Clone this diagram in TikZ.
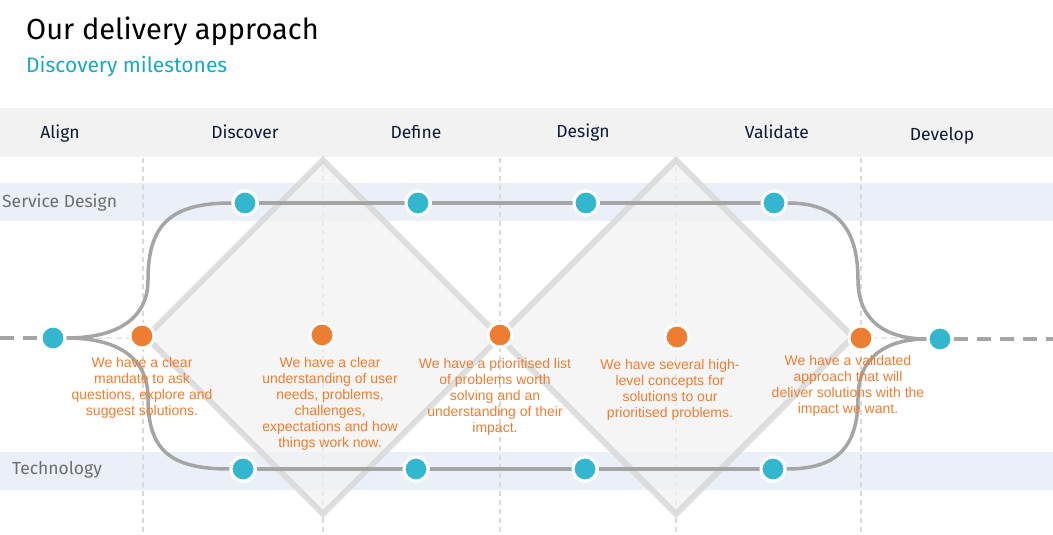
\documentclass[tikz,border=0pt]{standalone}
\usepackage{fontspec}
\setmainfont{Fira Sans}
\newfontfamily\arialf{Liberation Sans}
\definecolor{cyanD}{HTML}{33B7CF}
\definecolor{subC}{HTML}{1AA7C0}
\definecolor{orangeD}{HTML}{ED7D31}
\definecolor{lineG}{HTML}{A5A5A5}
\definecolor{bandB}{HTML}{EBF0F8}
\definecolor{headG}{HTML}{F2F2F2}
\definecolor{dashG}{HTML}{D9D9D9}
\definecolor{navy}{HTML}{0E1A33}
\definecolor{rowG}{HTML}{6D6D6D}
\tikzset{
  cdot/.style={circle,fill=cyanD,draw=white,line width=3pt,minimum size=24pt,inner sep=0pt},
  odot/.style={circle,fill=orangeD,draw=white,line width=3pt,minimum size=24pt,inner sep=0pt},
  track/.style={draw=lineG,line width=3.5pt},
  vdash/.style={draw=dashG,line width=1.3pt,dash pattern=on 5pt off 4pt},
  diam/.style={fill=headG,fill opacity=0.75,draw=dashG,draw opacity=0.85,line width=6pt,line join=miter},
  phase/.style={font=\fontsize{17.5}{20}\selectfont,text=navy,inner sep=0pt},
  rowlab/.style={font=\fontsize{17.5}{20}\selectfont,text=rowG,inner sep=0pt,anchor=west},
  otext/.style={font=\arialf\fontsize{14}{16}\selectfont,text=orangeD,align=center,anchor=north,inner sep=0pt}
}
\begin{document}
\begin{tikzpicture}[x=1pt,y=-1pt]
\useasboundingbox (0,0) rectangle (1053,535);
% title
\node[anchor=base west,inner sep=0pt,font=\fontsize{29}{34}\selectfont,text=black] (title) at (26,40) {Our delivery approach};
\node[anchor=base west,inner sep=0pt,font=\fontsize{21}{25}\selectfont,text=subC] (sub) at (26,73) {Discovery milestones};
% header band
\fill[headG] (0,108) rectangle (1053,157);
\node[phase] (h1) at (60,134) {Align};
\node[phase] (h2) at (245,132) {Discover};
\node[phase] (h3) at (416,132) {Define};
\node[phase] (h4) at (583,133) {Design};
\node[phase] (h5) at (777,132) {Validate};
\node[phase] (h6) at (942,136) {Develop};
% bands
\fill[bandB] (0,183) rectangle (1053,221);
\fill[bandB] (0,452) rectangle (1053,490);
\node[rowlab] (r1) at (2,203) {Service Design};
\node[rowlab] (r2) at (12,470) {Technology};
% vertical dashed lines
\foreach \x in {143,323,500,676,861} \draw[vdash] (\x,158) -- (\x,535);
% diamonds
\path[diam] (323,160) -- (500,337) -- (323,514) -- (146,337) -- cycle;
\path[diam] (676,160) -- (853,337) -- (676,514) -- (499,337) -- cycle;
% faint horizontal dashes
\draw[draw=dashG!60,line width=1.2pt,dash pattern=on 6pt off 4pt] (66,338) -- (142,338);
\draw[draw=dashG!60,line width=1.2pt,dash pattern=on 6pt off 4pt] (861,338) -- (930,338);
% dots
\node[cdot] (L) at (53,338) {};
\node[cdot] (R) at (940,339) {};
\node[cdot] (s1) at (245,203) {};
\node[cdot] (s2) at (418,203) {};
\node[cdot] (s3) at (586,203) {};
\node[cdot] (s4) at (774,203) {};
\node[cdot] (t1) at (243,469) {};
\node[cdot] (t2) at (416,469) {};
\node[cdot] (t3) at (585,469) {};
\node[cdot] (t4) at (773,469) {};
% tracks
\draw[track,dash pattern=on 14pt off 9pt] (0,338) -- (L.west);
\draw[track,dash pattern=on 14pt off 9pt] (R.east) -- (1053,339);
\draw[track] (L.east) .. controls (118,338) and (148,318) .. (148,280) .. controls (148,225) and (170,203) .. (s1.west);
\draw[track] (L.east) .. controls (118,338) and (148,358) .. (148,398) .. controls (148,450) and (170,469) .. (t1.west);
\draw[track] (s4.east) .. controls (834,203) and (858,225) .. (858,280) .. controls (858,320) and (885,339) .. (R.west);
\draw[track] (t4.east) .. controls (834,469) and (858,450) .. (858,398) .. controls (858,358) and (885,339) .. (R.west);
\draw[track] (s1) -- (s2) -- (s3) -- (s4);
\draw[track] (t1) -- (t2) -- (t3) -- (t4);
% redraw dots on top of tracks
\foreach \p in {(53,338),(940,339),(245,203),(418,203),(586,203),(774,203),(243,469),(416,469),(585,469),(773,469)}
  \node[cdot] at \p {};
% orange milestones
\node[odot] (o1) at (142,336) {};
\node[odot] (o2) at (322,335) {};
\node[odot] (o3) at (500,335) {};
\node[odot] (o4) at (677,337) {};
\node[odot] (o5) at (861,338) {};
\node[otext] (m1) at (142,357) {We have a clear\\mandate to ask\\questions, explore and\\suggest solutions.};
\node[otext] (m2) at (330,357) {We have a clear\\understanding of user\\needs, problems,\\challenges,\\expectations and how\\things work now.};
\node[otext] (m3) at (495,358) {We have a prioritised list\\of problems worth\\solving and an\\understanding of their\\impact.};
\node[otext] (m4) at (670,359) {We have several high-\\level concepts for\\solutions to our\\prioritised problems.};
\node[otext] (m5) at (848,355) {We have a validated\\approach that will\\deliver solutions with the\\impact we want.};
\end{tikzpicture}
\end{document}
